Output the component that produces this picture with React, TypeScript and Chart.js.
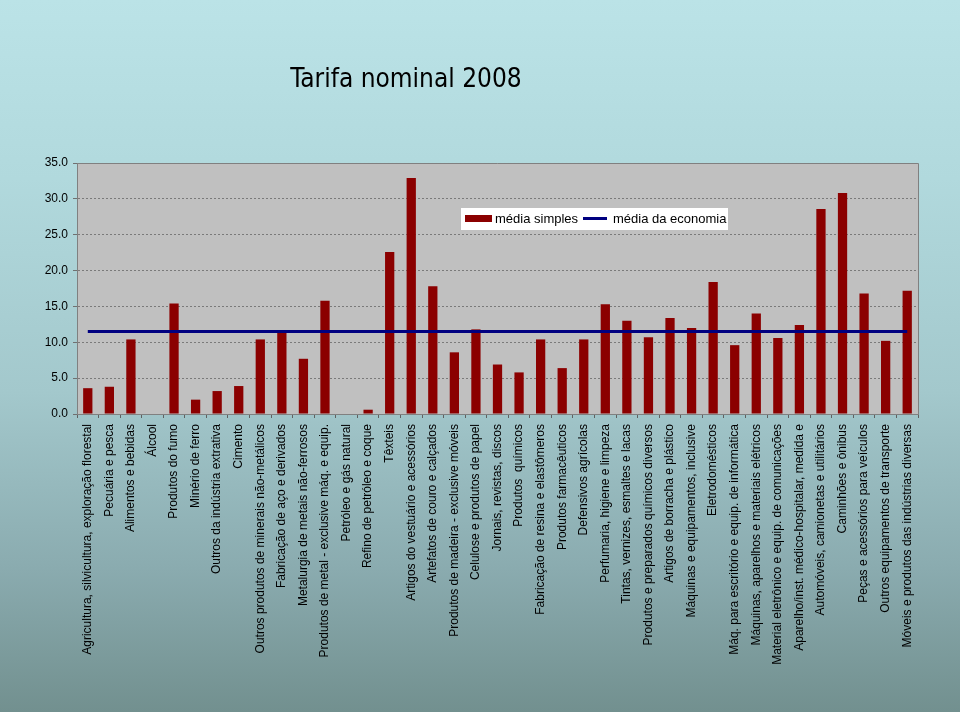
import React, { useEffect, useRef } from "react";
import { Chart, registerables } from "chart.js";

Chart.register(...registerables);

const TITLE = "Tarifa nominal 2008";

const categories: string[] = [
  "Agricultura, silvicultura, exploração florestal",
  "Pecuária e pesca",
  "Alimentos e bebidas",
  "Álcool",
  "Produtos do fumo",
  "Minério de ferro",
  "Outros da indústria extrativa",
  "Cimento",
  "Outros produtos de minerais não-metálicos",
  "Fabricação de aço e derivados",
  "Metalurgia de metais não-ferrosos",
  "Produtos de metal - exclusive máq. e equip.",
  "Petróleo e gás natural",
  "Refino de petróleo e coque",
  "Têxteis",
  "Artigos do vestuário e acessórios",
  "Artefatos de couro e calçados",
  "Produtos de madeira - exclusive móveis",
  "Celulose e produtos de papel",
  "Jornais, revistas, discos",
  "Produtos  químicos",
  "Fabricação de resina e elastômeros",
  "Produtos farmacêuticos",
  "Defensivos agrícolas",
  "Perfumaria, higiene e limpeza",
  "Tintas, vernizes, esmaltes e lacas",
  "Produtos e preparados químicos diversos",
  "Artigos de borracha e plástico",
  "Máquinas e equipamentos, inclusive",
  "Eletrodomésticos",
  "Máq. para escritório e equip. de informática",
  "Máquinas, aparelhos e materiais elétricos",
  "Material eletrônico e equip. de comunicações",
  "Aparelho/inst. médico-hospitalar, medida e",
  "Automóveis, camionetas e utilitários",
  "Caminhões e ônibus",
  "Peças e acessórios para veículos",
  "Outros equipamentos de transporte",
  "Móveis e produtos das indústrias diversas",
];

const mediaSimples: number[] = [
  3.6, 3.8, 10.4, 0, 15.4, 2.0, 3.2, 3.9, 10.4, 11.4, 7.7, 15.8, 0, 0.6, 22.6,
  32.9, 17.8, 8.6, 11.8, 6.9, 5.8, 10.4, 6.4, 10.4, 15.3, 13.0, 10.7, 13.4,
  12.0, 18.4, 9.6, 14.0, 10.6, 12.4, 28.6, 30.8, 16.8, 10.2, 17.2,
];

const mediaEconomiaValue = 11.5;
const mediaEconomia: number[] = categories.map(() => mediaEconomiaValue);

const seriesNames: string[] = ["média simples", "média da economia"];

const yMin = 0;
const yMax = 35;
const yStep = 5;

const BAR_COLOR = "#8b0000";
const LINE_COLOR = "#000080";

export default function App() {
  const canvasRef = useRef<HTMLCanvasElement | null>(null);

  useEffect(() => {
    document.body.style.margin = "0";
    const canvas = canvasRef.current;
    if (!canvas) return;

    const bgPlugin = {
      id: "plotBg",
      beforeDraw(chart: any) {
        const { ctx, chartArea } = chart;
        ctx.save();
        ctx.fillStyle = "#c0c0c0";
        ctx.fillRect(
          chartArea.left,
          chartArea.top,
          chartArea.right - chartArea.left,
          chartArea.bottom - chartArea.top
        );
        ctx.restore();
      },
      afterDatasetsDraw(chart: any) {
        const { ctx, chartArea } = chart;
        ctx.save();
        ctx.strokeStyle = "#808080";
        ctx.lineWidth = 1;
        ctx.beginPath();
        ctx.moveTo(chartArea.left, chartArea.top + 0.5);
        ctx.lineTo(chartArea.right + 0.5, chartArea.top + 0.5);
        ctx.lineTo(chartArea.right + 0.5, chartArea.bottom);
        ctx.stroke();
        ctx.restore();
      },
    };

    const titleLegendPlugin = {
      id: "titleLegend",
      afterDraw(chart: any) {
        const { ctx } = chart;
        ctx.save();
        // title
        ctx.fillStyle = "#000";
        ctx.font = '26px "DejaVu Sans Condensed", "DejaVu Sans", sans-serif';
        ctx.textAlign = "center";
        ctx.textBaseline = "middle";
        ctx.fillText(TITLE, 406, 80);

        // legend box
        const lx = 461, ly = 208, lw = 267, lh = 22;
        ctx.fillStyle = "#ffffff";
        ctx.fillRect(lx, ly, lw, lh);
        ctx.fillStyle = BAR_COLOR;
        ctx.fillRect(465, 215, 27, 7);
        ctx.font = '13px "Liberation Sans", Arial, sans-serif';
        ctx.textAlign = "left";
        ctx.textBaseline = "middle";
        ctx.fillStyle = "#000";
        ctx.fillText(seriesNames[0], 495, 219);
        ctx.strokeStyle = LINE_COLOR;
        ctx.lineWidth = 3;
        ctx.beginPath();
        ctx.moveTo(583, 218.5);
        ctx.lineTo(607, 218.5);
        ctx.stroke();
        ctx.fillStyle = "#000";
        ctx.fillText(seriesNames[1], 613, 219);
        ctx.restore();
      },
    };

    const chart = new Chart(canvas, {
      type: "bar",
      data: {
        labels: categories,
        datasets: [
          {
            type: "line" as const,
            label: seriesNames[1],
            data: mediaEconomia,
            borderColor: LINE_COLOR,
            backgroundColor: LINE_COLOR,
            borderWidth: 3,
            pointRadius: 0,
            fill: false,
            order: 0,
          },
          {
            type: "bar" as const,
            label: seriesNames[0],
            data: mediaSimples,
            backgroundColor: BAR_COLOR,
            borderWidth: 0,
            categoryPercentage: 1,
            barPercentage: 0.43,
            order: 1,
          },
        ],
      },
      options: {
        animation: false,
        responsive: true,
        maintainAspectRatio: false,
        layout: { padding: { left: 0, top: 163, right: 42, bottom: 0 } },
        plugins: {
          legend: { display: false },
          title: { display: false },
          tooltip: { enabled: false },
        },
        scales: {
          x: {
            type: "category",
            offset: true,
            afterFit: (s: any) => {
              s.height = 298;
            },
            grid: {
              drawOnChartArea: false,
              drawTicks: true,
              tickLength: 4,
              offset: true,
              color: "#606060",
              tickColor: "#606060",
            },
            border: { display: true, color: "#808080", width: 1 },
            ticks: {
              autoSkip: false,
              maxRotation: 90,
              minRotation: 90,
              padding: 6,
              color: "#000",
              font: { family: '"Liberation Sans", Arial, sans-serif', size: 12 },
            },
          },
          y: {
            min: yMin,
            max: yMax,
            afterFit: (s: any) => {
              s.width = 77;
            },
            grid: {
              color: "#7a7a7a",
              tickColor: "#707070",
              tickLength: 4,
              tickBorderDash: [],
            },
            border: { display: true, color: "#808080", width: 1, dash: [2, 2] },
            ticks: {
              stepSize: yStep,
              padding: 5,
              color: "#000",
              font: { family: '"Liberation Sans", Arial, sans-serif', size: 12 },
              callback: (v: any) => Number(v).toFixed(1),
            },
          },
        },
      },
      plugins: [bgPlugin, titleLegendPlugin],
    });

    return () => chart.destroy();
  }, []);

  return (
    <div
      style={{
        position: "relative",
        width: 960,
        height: 712,
        background:
          "linear-gradient(to bottom, #bbe3e7 0%, #b1d9dd 25%, #a3c8cc 55%, #8aabaf 80%, #72908f 100%)",
      }}
    >
      <canvas ref={canvasRef} />
    </div>
  );
}
